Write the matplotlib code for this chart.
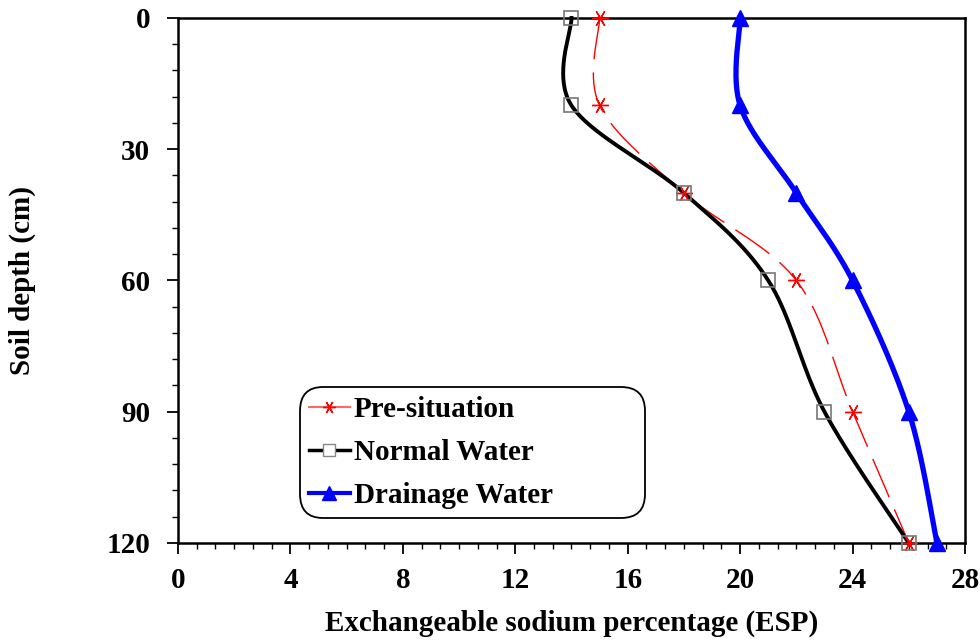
import numpy as np
import matplotlib
matplotlib.use("Agg")
import matplotlib.pyplot as plt
from matplotlib.ticker import MultipleLocator

plt.rcParams['font.family'] = ['Liberation Serif', 'DejaVu Serif']
plt.rcParams['font.weight'] = 'bold'

depth = [0, 20, 40, 60, 90, 120]
pre_situation = [15, 15, 18, 22, 24, 26]
normal_water = [14, 14, 18, 21, 23, 26]
drainage_water = [20, 20, 22, 24, 26, 27]

x_ticks = [0, 4, 8, 12, 16, 20, 24, 28]
y_ticks = [0, 30, 60, 90, 120]


def smooth(xs, ys, n=40):
    P = np.column_stack([xs, ys]).astype(float)
    m = len(P)
    out = []
    for i in range(m - 1):
        p0 = P[i - 1] if i > 0 else P[i]
        p1 = P[i]
        p2 = P[i + 1]
        p3 = P[i + 2] if i + 2 < m else P[i + 1]
        b1 = p1 + (p2 - p0) / 6.0
        b2 = p2 - (p3 - p1) / 6.0
        t = np.linspace(0, 1, n)[:, None]
        seg = ((1 - t) ** 3) * p1 + 3 * ((1 - t) ** 2) * t * b1 + 3 * (1 - t) * t ** 2 * b2 + t ** 3 * p2
        out.append(seg if i == 0 else seg[1:])
    s = np.vstack(out)
    return s[:, 0], s[:, 1]


fig = plt.figure(figsize=(9.8, 6.4), dpi=100)
ax = fig.add_axes([0.1816, 0.1516, 0.8031, 0.8203])

star = (6, 2, 90)
# Pre-situation
sx, sy = smooth(pre_situation, depth)
ax.plot(sx, sy, color='red', lw=1.0, ls=(0, (30, 9.5)), zorder=3, clip_on=False)
ax.plot(pre_situation, depth, ls='none', marker=star, ms=12, mec='red', mew=1.0,
        zorder=4, clip_on=False)
# Normal water
sx, sy = smooth(normal_water, depth)
ax.plot(sx, sy, color='black', lw=2.8, zorder=3, clip_on=False)
ax.plot(normal_water, depth, ls='none', marker='s', ms=10, mfc='none', mec='#777777', mew=1.2,
        zorder=4, clip_on=False)
# Drainage water
sx, sy = smooth(drainage_water, depth)
ax.plot(sx, sy, color='blue', lw=3.8, zorder=3, clip_on=False)
ax.plot(drainage_water, depth, ls='none', marker='^', ms=11, color='blue',
        zorder=4, clip_on=False)

# legend handles
h1, = ax.plot([], [], color='#ff6666', lw=1.5, marker=star, ms=9, mec='red', mew=1.0)
h2, = ax.plot([], [], color='black', lw=2.5, marker='s', ms=8, mfc='white', mec='#888888', mew=1.0)
h3, = ax.plot([], [], color='blue', lw=3, marker='^', ms=10)
leg = ax.legend([h1, h2, h3], ['Pre-situation', 'Normal Water', 'Drainage Water'],
                loc='lower left', bbox_to_anchor=(0.155, 0.048, 0.438, 0.25), mode='expand',
                frameon=True, fancybox=True,
                prop={'size': 21, 'weight': 'bold'}, handlelength=1.4, handletextpad=0.15,
                borderpad=0.3, labelspacing=0.55, borderaxespad=0, framealpha=1)
leg.get_frame().set_edgecolor('black')
leg.get_frame().set_linewidth(1.3)
leg.get_frame().set_boxstyle('round,pad=0.0,rounding_size=0.8')

ax.set_xlim(0, 28)
ax.set_ylim(120, 0)
ax.set_xticks(x_ticks)
ax.set_yticks(y_ticks)
ax.xaxis.set_minor_locator(MultipleLocator(4 / 6))
ax.yaxis.set_minor_locator(MultipleLocator(6))
ax.tick_params(which='major', direction='out', length=8, width=1.3, labelsize=21)
ax.tick_params(axis='x', which='major', pad=9)
ax.tick_params(axis='y', which='major', pad=12)
ax.tick_params(which='minor', direction='out', length=4, width=1.0)
for lab in ax.get_xticklabels() + ax.get_yticklabels():
    lab.set_fontweight('bold')
for s in ax.spines.values():
    s.set_linewidth(1.8)

ax.set_xlabel('Exchangeable sodium percentage (ESP)', fontsize=21, fontweight='bold')
ax.set_ylabel('Soil depth (cm)', fontsize=21, fontweight='bold')
ax.xaxis.set_label_coords(0.5, -0.127)
ax.yaxis.set_label_coords(-0.180, 0.5)

fig.savefig('out.png', dpi=100)
